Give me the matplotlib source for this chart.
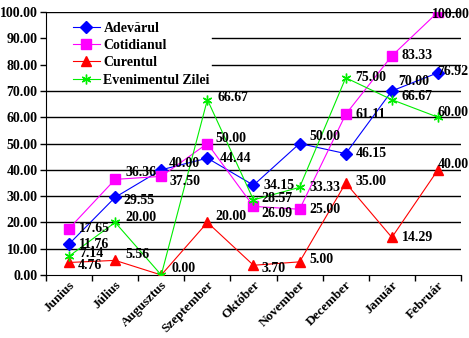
import matplotlib
matplotlib.use('Agg')
import matplotlib.pyplot as plt
import matplotlib.ticker as mticker

plt.rcParams['font.family'] = 'Liberation Serif'
plt.rcParams['font.weight'] = 'bold'
plt.rcParams['font.size'] = 10

months = ['Junius', 'Július', 'Augusztus', 'Szeptember', 'Október',
          'November', 'December', 'Január', 'Február']

adevarul = [11.76, 29.55, 40.00, 44.44, 34.15, 50.00, 46.15, 70.00, 76.92]
cotidianul = [17.65, 36.36, 37.50, 50.00, 26.09, 25.00, 61.11, 83.33, 100.00]
curentul = [4.76, 5.56, 0.00, 20.00, 3.70, 5.00, 35.00, 14.29, 40.00]
evenimentul = [7.14, 20.00, 0.00, 66.67, 28.57, 33.33, 75.00, 66.67, 60.00]

# label offsets in pixels (dx, dy)
off_adev = [(10, 0), (8, -3), (7, 6), (12, 0), (10, 0), (10, 7), (10, 0), (6, 9), (-1, 1)]
off_cot = [(10, 0), (10, 7), (8, -5), (8, 5), (8, -7), (10, 0), (10, 0), (10, 0), (-6, -2)]
off_cur = [(9, -3), (10, 6), (10, 6), (8, 6), (8, -3), (10, 2), (10, 1), (10, 0), (0, 5)]
off_eve = [(10, 3), (10, 5), (10, 6), (10, 2), (8, 1), (10, 0), (10, 0), (10, 3), (0, 5)]

fig = plt.figure(figsize=(4.69, 3.38), dpi=100)
ax = fig.add_axes([0.098, 0.1864, 0.885, 0.778])

x = list(range(len(months)))
series = [
    ('Adevărul', adevarul, '#0000FF', 'D', 6, off_adev),
    ('Cotidianul', cotidianul, '#FF00FF', 's', 7, off_cot),
    ('Curentul', curentul, '#FF0000', '^', 7.5, off_cur),
    ('Evenimentul Zilei', evenimentul, '#00EE00', (6, 2, 0), 7, off_eve),
]

for name, vals, col, mk, ms, offs in series:
    ax.plot(x, vals, color=col, marker=mk, markersize=ms, linewidth=0.8,
            markeredgecolor=col, markerfacecolor=col, label=name, zorder=3)
    for i, v in enumerate(vals):
        if name == 'Evenimentul Zilei' and v == 0:
            continue
        ax.annotate('%.2f' % v, (i, v), xytext=offs[i], textcoords='offset pixels',
                    ha='left', va='center', fontsize=10, fontweight='bold', zorder=4)

ax.set_xlim(-0.5, 8.5)
ax.set_ylim(0, 100)
ax.yaxis.set_major_locator(mticker.MultipleLocator(10))
ax.yaxis.set_major_formatter(mticker.StrMethodFormatter('{x:.2f}'))

# grid lines; the ones behind the legend start right of it
for gy in range(10, 101, 10):
    start = 0.4 if gy in (80, 90) else 0.0
    ax.axhline(gy, start, 1, color='black', linewidth=1, zorder=0.5)

ax.set_xticks([i - 0.5 for i in range(len(months) + 1)])
ax.set_xticklabels([])
ax.set_xticks(x, minor=True)
ax.set_xticklabels(months, minor=True, rotation=45, ha='right', va='top',
                   rotation_mode='anchor', fontsize=9.5)
ax.tick_params(axis='x', which='minor', length=0, pad=3)
ax.tick_params(axis='x', which='major', length=4, width=1, direction='out')
ax.tick_params(axis='y', length=4, width=1, direction='out', pad=2)

ax.spines['right'].set_visible(False)
ax.spines['top'].set_visible(False)

leg = ax.legend(loc='upper left', bbox_to_anchor=(0.065, 0.962), frameon=False,
                fontsize=10, handlelength=1.95, handletextpad=0.25,
                labelspacing=0.3, borderpad=0, borderaxespad=0)
leg.set_zorder(5)

fig.savefig('out.png', dpi=100)
